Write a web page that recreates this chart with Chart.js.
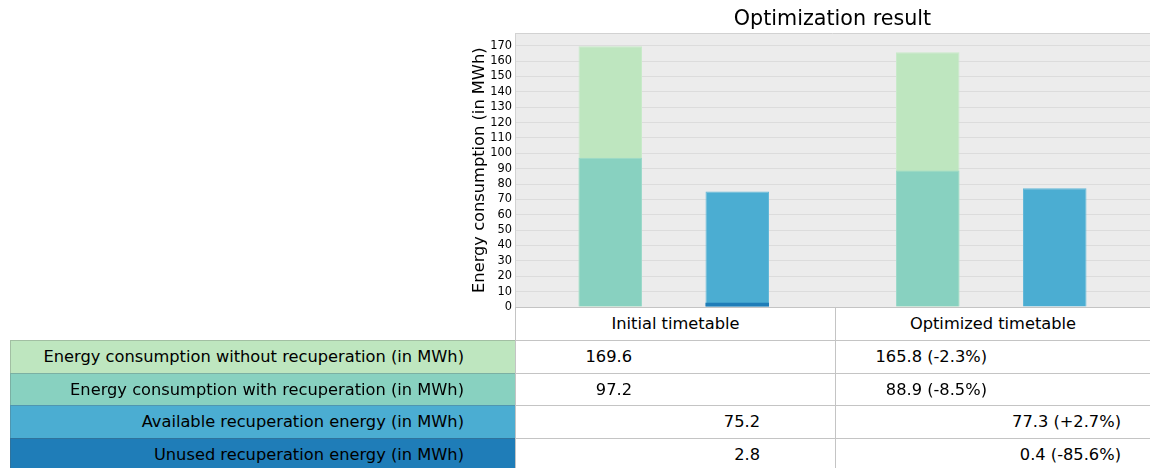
<!DOCTYPE html>
<html>
<head>
<meta charset="utf-8">
<script src="https://cdn.jsdelivr.net/npm/chart.js@4.4.1/dist/chart.umd.min.js"></script>
<style>
  html, body { margin: 0; padding: 0; background: #ffffff; overflow: hidden; }
  body { width: 1150px; height: 468px; position: relative; font-family: 'DejaVu Sans', sans-serif; }
  #wrap { position: absolute; left: 0; top: 0; width: 1150px; height: 320px; }
  .cell { position: absolute; box-sizing: border-box; border: 1px solid #c4c4c4; font-size: 16.25px; color: #000; white-space: pre; }
  .cell span { position: absolute; top: 0; }
</style>
</head>
<body>
<div id="wrap"><canvas id="chart" width="1150" height="320"></canvas></div>
<div id="table"></div>
<script>
// ---- data ----
const categories = ["Initial timetable", "Optimized timetable"];
const seriesNames = [
  "Energy consumption without recuperation (in MWh)",
  "Energy consumption with recuperation (in MWh)",
  "Available recuperation energy (in MWh)",
  "Unused recuperation energy (in MWh)"
];
const withoutRecuperation = [169.6, 165.8];
const withRecuperation = [97.2, 88.9];
const availableRecuperation = [75.2, 77.3];
const unusedRecuperation = [2.8, 0.4];
const changeLabels = ["-2.3%", "-8.5%", "+2.7%", "-85.6%"];
const yTickStep = 10;
const yMax = 178.08;

// ---- styles ----
const colors = ["#bee6bf", "#88d1c0", "#4badd2", "#1f7db8"];
const borderColors = ["#c8eac9", "#9cd9ca", "#62b8d8", "#1f7db8"];

const bgPlugin = {
  id: 'plotBg',
  beforeDraw(chart) {
    const a = chart.chartArea, c = chart.ctx;
    c.save();
    c.fillStyle = '#ececec';
    c.fillRect(a.left, a.top, a.right - a.left, a.bottom - a.top);
    c.restore();
  },
  afterDraw(chart) {
    const a = chart.chartArea, c = chart.ctx;
    c.save();
    c.strokeStyle = '#d2d2d2';
    c.lineWidth = 1;
    c.beginPath();
    c.moveTo(a.left, Math.round(a.top) + 0.5);
    c.lineTo(a.right, Math.round(a.top) + 0.5);
    c.stroke();
    c.restore();
  }
};

new Chart(document.getElementById('chart'), {
  type: 'bar',
  data: {
    labels: categories,
    datasets: [
      { label: seriesNames[1], data: withRecuperation, stack: 'a', backgroundColor: colors[1], borderColor: borderColors[1], borderWidth: 1 },
      { label: seriesNames[0], data: withoutRecuperation, stack: 'a', backgroundColor: colors[0], borderColor: borderColors[0], borderWidth: 1 },
      { label: seriesNames[3], data: unusedRecuperation, stack: 'b', backgroundColor: colors[3], borderColor: borderColors[3], borderWidth: 0 },
      { label: seriesNames[2], data: availableRecuperation, stack: 'b', backgroundColor: colors[2], borderColor: borderColors[2], borderWidth: 1 }
    ]
  },
  options: {
    responsive: false,
    animation: false,
    devicePixelRatio: 1,
    categoryPercentage: 0.8,
    barPercentage: 0.5,
    layout: { padding: { left: 470, right: 0, top: 0, bottom: 13 } },
    plugins: {
      legend: { display: false },
      tooltip: { enabled: false },
      title: {
        display: true,
        text: 'Optimization result',
        fullSize: false,
        color: '#000',
        font: { family: 'DejaVu Sans', size: 20.7, weight: 'normal' },
        padding: { top: 7.5, bottom: 1 }
      }
    },
    scales: {
      x: { type: 'category', display: false, stacked: true },
      y: {
        stacked: false,
        min: 0,
        max: yMax,
        afterFit(scale) { scale.width = 45; scale.paddingTop = 0; scale.paddingBottom = 0; },
        border: { display: true, color: '#d2d2d2' },
        grid: { color: '#dcdcdc', drawTicks: false, lineWidth: 1 },
        ticks: {
          stepSize: yTickStep,
          includeBounds: false,
          autoSkip: false,
          padding: 3,
          color: '#000',
          font: { family: 'DejaVu Sans', size: 11.4 },
          callback: v => String(v)
        },
        title: {
          display: true,
          text: 'Energy consumption (in MWh)',
          color: '#000',
          font: { family: 'DejaVu Sans', size: 16.25 },
          padding: { top: 0, bottom: 0 }
        }
      }
    }
  },
  plugins: [bgPlugin]
});

// ---- table ----
const initialCol = [withoutRecuperation[0], withRecuperation[0], availableRecuperation[0], unusedRecuperation[0]];
const optimizedCol = [withoutRecuperation[1], withRecuperation[1], availableRecuperation[1], unusedRecuperation[1]];
const table = document.getElementById('table');
const rowTop = 307, headerH = 33, rowH = 32.67;
const labelL = 10, col1L = 515, col2L = 835, tableR = 1150;
function addCell(x, y, w, h, bg, text, align, pad) {
  const d = document.createElement('div');
  d.className = 'cell';
  d.style.left = x + 'px'; d.style.top = y + 'px';
  d.style.width = w + 'px'; d.style.height = h + 'px';
  d.style.background = bg;
  if (bg !== '#ffffff') d.style.borderColor = 'rgba(90,90,90,0.28)';
  const s = document.createElement('span');
  s.textContent = text;
  s.style.lineHeight = (h - 2) + 'px';
  if (align === 'center') { s.style.left = '0'; s.style.right = '0'; s.style.textAlign = 'center'; }
  else { s.style.right = pad + 'px'; }
  d.appendChild(s);
  table.appendChild(d);
}
addCell(col1L, rowTop, col2L - col1L + 1, headerH + 1, '#ffffff', categories[0], 'center');
addCell(col2L, rowTop, tableR - col2L + 1, headerH + 1, '#ffffff', categories[1], 'center');
const col1Pads = [203, 203, 75, 75];
const col2Pads = [163, 163, 29, 29];
for (let i = 0; i < seriesNames.length; i++) {
  const y = rowTop + headerH + i * rowH;
  addCell(labelL, y, col1L - labelL + 1, rowH + 1, colors[i], seriesNames[i], 'right', 51);
  addCell(col1L, y, col2L - col1L + 1, rowH + 1, '#ffffff', initialCol[i].toFixed(1), 'right', col1Pads[i]);
  addCell(col2L, y, tableR - col2L + 1, rowH + 1, '#ffffff', optimizedCol[i].toFixed(1) + ' (' + changeLabels[i] + ')', 'right', col2Pads[i]);
}
</script>
</body>
</html>
